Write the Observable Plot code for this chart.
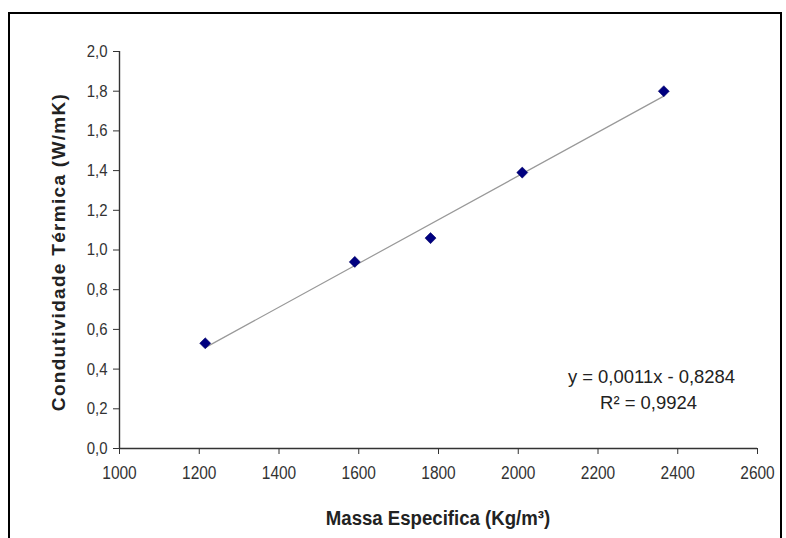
<!DOCTYPE html>
<html>
<head>
<meta charset="utf-8">
<script src="https://cdn.jsdelivr.net/npm/d3@7"></script>
<script src="https://cdn.jsdelivr.net/npm/@observablehq/plot@0.6"></script>
<style>
  html, body { margin: 0; padding: 0; background: #fff; overflow: hidden; }
  #wrap { position: relative; width: 786px; height: 538px; }
  #frame { position: absolute; left: 8px; top: 12px; width: 774px; height: 600px; border: 2px solid #000; box-sizing: border-box; pointer-events: none; }
  #chart { position: absolute; left: 0; top: 0; }
</style>
</head>
<body>
<div id="wrap"><div id="frame"></div><div id="chart"></div></div>
<script>
const density = [1215, 1590, 1780, 2010, 2365];
const conductivity = [0.53, 0.94, 1.06, 1.39, 1.80];
const xTicks = [1000, 1200, 1400, 1600, 1800, 2000, 2200, 2400, 2600];
const yTicks = [0, 0.2, 0.4, 0.6, 0.8, 1.0, 1.2, 1.4, 1.6, 1.8, 2.0];
const xLabel = "Massa Especifica (Kg/m³)";
const yLabel = "Condutividade Térmica (W/mK)";
const eqLine1 = "y = 0,0011x - 0,8284";
const eqLine2 = "R² = 0,9924";

const data = density.map((d, i) => ({x: d, y: conductivity[i]}));
const fontFam = "'Liberation Sans', Arial, sans-serif";
const fmtY = d => d.toFixed(1).replace(".", ",");

const chart = Plot.plot({
  width: 786,
  height: 538,
  marginLeft: 119,
  marginRight: 29,
  marginTop: 51,
  marginBottom: 90,
  style: {fontFamily: fontFam, fontSize: "17px", color: "#333", background: "transparent"},
  x: {domain: [1000, 2600], label: null},
  y: {domain: [0, 2.0], label: null},
  marks: [
    Plot.axisX({ticks: xTicks, tickFormat: d => String(d), tickSize: 6, tickPadding: 12, stroke: "#333", fontSize: 18, label: null, className: "tkx"}),
    Plot.axisY({ticks: yTicks, tickFormat: fmtY, tickSize: 6, tickPadding: 6, stroke: "#333", fontSize: 17, label: null, className: "tky"}),
    Plot.ruleX([1000], {stroke: "#333", strokeWidth: 1.4}),
    Plot.ruleY([0], {stroke: "#333", strokeWidth: 1.4}),
    Plot.linearRegressionY(data, {x: "x", y: "y", ci: 0, stroke: "#999", strokeWidth: 1.2}),
    Plot.dot(data, {x: "x", y: "y", symbol: "diamond2", r: 5, fill: "#000080", stroke: "#000060", strokeWidth: 0.5}),
    Plot.text([eqLine1], {frameAnchor: "bottom-right", dx: -106, dy: -72, text: d => d, textAnchor: "middle", lineAnchor: "middle", fontSize: 19, fill: "#222", className: "eq"}),
    Plot.text([eqLine2], {frameAnchor: "bottom-right", dx: -109, dy: -46, text: d => d, textAnchor: "middle", lineAnchor: "middle", fontSize: 19, fill: "#222", className: "eq"})
  ]
});
document.getElementById("chart").appendChild(chart);

const svg = d3.select(chart);
function condense(sel, k) {
  sel.each(function() {
    const w = this.getComputedTextLength();
    d3.select(this).attr("textLength", w * k).attr("lengthAdjust", "spacingAndGlyphs");
  });
}
condense(svg.selectAll("g.tkx text"), 0.86);
condense(svg.selectAll("g.tky text"), 0.88);
condense(svg.selectAll("g.eq text"), 0.97);

// axis titles
svg.append("text")
  .attr("transform", "translate(60,252) rotate(-90)")
  .attr("text-anchor", "middle")
  .attr("dominant-baseline", "middle")
  .style("font-family", fontFam)
  .style("font-weight", "bold")
  .style("font-size", "19px")
  .style("letter-spacing", "1.3px")
  .attr("fill", "#222")
  .text(yLabel);
const xt = svg.append("text")
  .attr("x", 438)
  .attr("y", 520)
  .attr("text-anchor", "middle")
  .attr("dominant-baseline", "middle")
  .style("font-family", fontFam)
  .style("font-weight", "bold")
  .style("font-size", "20px")
  .attr("fill", "#222")
  .text(xLabel);
xt.attr("textLength", xt.node().getComputedTextLength() * 0.93).attr("lengthAdjust", "spacingAndGlyphs");
</script>
</body>
</html>
